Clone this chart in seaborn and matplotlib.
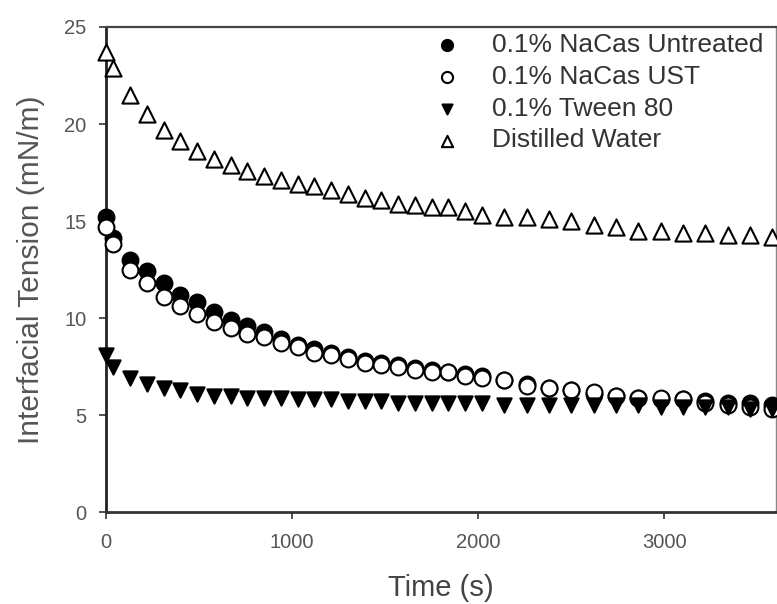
import matplotlib
matplotlib.use("Agg")
import matplotlib.pyplot as plt
import seaborn as sns
import pandas as pd

time_s = [0, 40, 130, 220, 310, 400, 490, 580, 670, 760, 850,
          940, 1030, 1120, 1210, 1300, 1390, 1480, 1570, 1660, 1750, 1840, 1930, 2020,
          2140, 2260, 2380, 2500, 2620, 2740, 2860, 2980, 3100, 3220, 3340, 3460, 3580]

nacas_untreated = [15.2, 14.1, 13.0, 12.4, 11.8, 11.2, 10.8, 10.3, 9.9, 9.6, 9.3,
                   8.9, 8.6, 8.4, 8.2, 8.0, 7.8, 7.7, 7.6, 7.4, 7.3, 7.2, 7.1, 7.0,
                   6.8, 6.6, 6.4, 6.3, 6.1, 6.0, 5.9, 5.8, 5.8, 5.7, 5.6, 5.6, 5.5]

nacas_ust = [14.7, 13.8, 12.5, 11.8, 11.1, 10.6, 10.2, 9.8, 9.5, 9.2, 9.0,
             8.7, 8.5, 8.2, 8.1, 7.9, 7.7, 7.6, 7.5, 7.3, 7.2, 7.2, 7.0, 6.9,
             6.8, 6.5, 6.4, 6.3, 6.2, 6.0, 5.9, 5.9, 5.8, 5.6, 5.5, 5.4, 5.3]

tween80 = [8.1, 7.5, 6.9, 6.6, 6.4, 6.3, 6.1, 6.0, 6.0, 5.9, 5.9,
           5.9, 5.8, 5.8, 5.8, 5.7, 5.7, 5.7, 5.6, 5.6, 5.6, 5.6, 5.6, 5.6,
           5.5, 5.5, 5.5, 5.5, 5.5, 5.5, 5.5, 5.4, 5.4, 5.4, 5.4, 5.3, 5.3]

distilled_water = [23.7, 22.9, 21.5, 20.5, 19.7, 19.1, 18.6, 18.2, 17.9, 17.6, 17.3,
                   17.1, 16.9, 16.8, 16.6, 16.4, 16.2, 16.1, 15.9, 15.8, 15.7, 15.7, 15.5, 15.3,
                   15.2, 15.2, 15.1, 15.0, 14.8, 14.7, 14.5, 14.5, 14.4, 14.4, 14.3, 14.3, 14.2]

labels = ["0.1% NaCas Untreated", "0.1% NaCas UST", "0.1% Tween 80", "Distilled Water"]
x_ticks = [0, 1000, 2000, 3000]
y_ticks = [0, 5, 10, 15, 20, 25]

sns.set_theme(style="white")
plt.rcParams["font.family"] = ["Liberation Sans", "DejaVu Sans"]

fig = plt.figure(figsize=(7.77, 6.04), dpi=100)
ax = fig.add_axes([0.1364, 0.1523, 0.8623, 0.8030])

series = [
    (nacas_untreated, "o", "black", 130),
    (nacas_ust, "o", "white", 130),
    (tween80, "v", "black", 105),
    (distilled_water, "^", "white", 135),
]
for lab, (yv, mk, fc, sz) in zip(labels, series):
    df = pd.DataFrame({"Time": time_s, "IFT": yv})
    sns.scatterplot(data=df, x="Time", y="IFT", marker=mk, s=sz,
                    facecolor=fc, edgecolor="black", linewidth=1.5,
                    ax=ax, label=lab, zorder=3, clip_on=False)

ax.set_xlim(0, 3600)
ax.set_ylim(0, 25)
ax.set_xticks(x_ticks)
ax.set_yticks(y_ticks)
ax.tick_params(axis="both", which="major", direction="out", length=5, width=1.2,
               color="#333333", labelsize=14.5, labelcolor="#555555",
               bottom=True, left=True)
ax.tick_params(axis="x", pad=10)
ax.tick_params(axis="y", pad=9)
ax.set_xlabel("Time (s)", fontsize=21, color="#444444", labelpad=16)
ax.set_ylabel("Interfacial Tension (mN/m)", fontsize=21.5, color="#555555", labelpad=14)

ax.spines["left"].set_color("#222222")
ax.spines["left"].set_linewidth(2.0)
ax.spines["bottom"].set_color("#333333")
ax.spines["bottom"].set_linewidth(2.0)
ax.spines["top"].set_color("#444444")
ax.spines["top"].set_linewidth(1.6)
ax.spines["right"].set_color("#888888")
ax.spines["right"].set_linewidth(1.0)

leg = ax.legend(loc="upper right", bbox_to_anchor=(0.997, 1.01), frameon=False,
                fontsize=19, labelspacing=0.3, handletextpad=1.1,
                markerscale=0.7, borderaxespad=0.0, handlelength=1.2)
for t in leg.get_texts():
    t.set_color("#333333")

fig.savefig("out.png", dpi=100)
